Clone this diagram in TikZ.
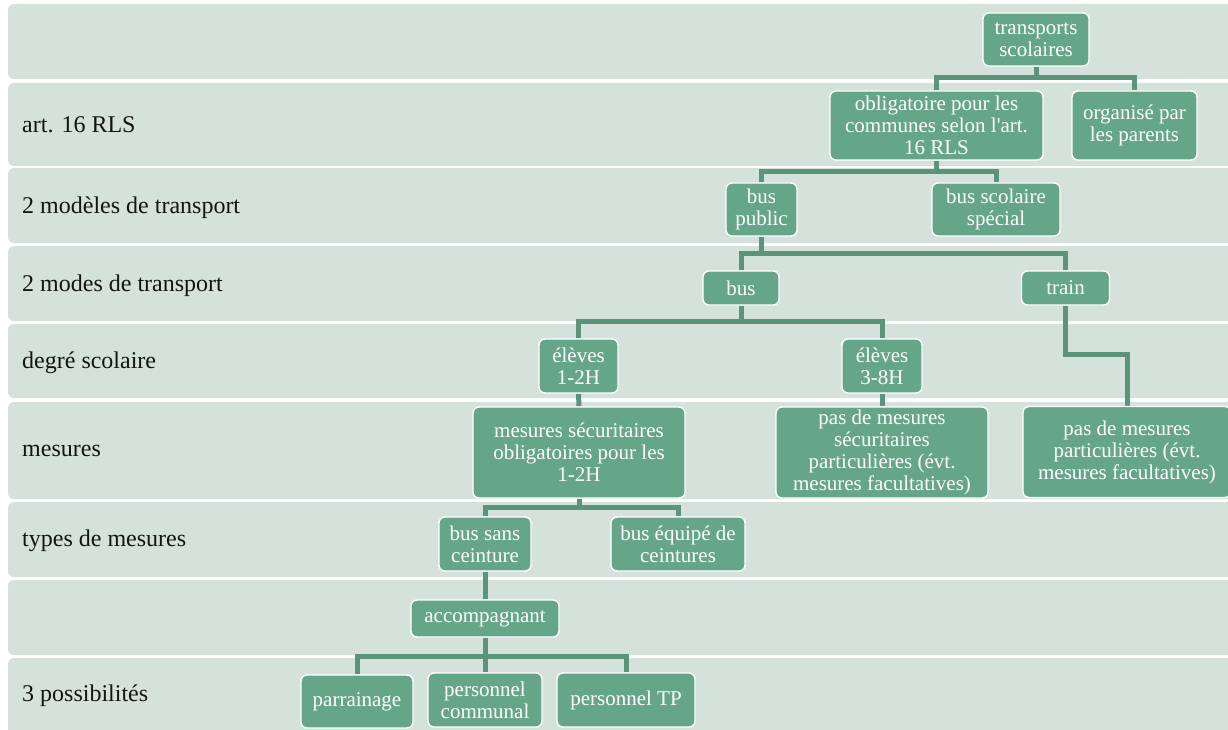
\documentclass[tikz,border=0pt]{standalone}
\usepackage{fontspec}
\setmainfont{Liberation Serif}
\usetikzlibrary{backgrounds}
\definecolor{bandfill}{RGB}{213,225,219}
\definecolor{nodefill}{RGB}{102,166,136}
\definecolor{connc}{RGB}{90,148,121}
\definecolor{labelc}{RGB}{20,20,20}
\newcommand{\straightq}{\XeTeXglyph\XeTeXcharglyph"0027\relax}
\tikzset{
  band/.style={fill=bandfill, draw=none, rounded corners=6pt},
  rowlabel/.style={anchor=west, inner sep=0pt, text=labelc, font=\fontsize{24}{26}\selectfont},
  box/.style={draw=white, line width=1.4pt, fill=nodefill, rounded corners=6pt, text=white,
    align=center, inner sep=0pt, font=\fontsize{21}{22}\selectfont},
  conn/.style={draw=connc, line width=5pt, line join=miter}
}
\newcommand{\bx}[6]{% name, cx, cy, w, h, text
  \node[box, minimum width=#4pt, minimum height=#5pt] (#1) at (#2,#3) {#6};}
\begin{document}
\begin{tikzpicture}[x=1pt, y=-1pt]
\useasboundingbox (0,0) rectangle (1228,730);
\clip (0,0) rectangle (1228,730);
\begin{scope}[on background layer]
\fill[white] (0,0) rectangle (1228,730);
% bands
\path[band] (8,4) rectangle (1250,79);
\path[band] (8,83) rectangle (1250,166);
\path[band] (8,168) rectangle (1250,243);
\path[band] (8,246) rectangle (1250,321);
\path[band] (8,324) rectangle (1250,398);
\path[band] (8,402) rectangle (1250,499);
\path[band] (8,502) rectangle (1250,577);
\path[band] (8,580) rectangle (1250,655);
\path[band] (8,658) rectangle (1250,740);
\end{scope}
% row labels
\node[rowlabel] (l2) at (22,125) {art. 16 RLS};
\node[rowlabel] (l3) at (22,208) {2 modèles de transport};
\node[rowlabel] (l4) at (22,285.5) {2 modes de transport};
\node[rowlabel] (l5) at (22,362.5) {degré scolaire};
\node[rowlabel] (l6) at (22,451) {mesures};
\node[rowlabel] (l7) at (22,540.5) {types de mesures};
\node[rowlabel] (l9) at (22,696) {3 possibilités};
% nodes
\bx{ts}{1036}{39.5}{106}{53}{transports\\scolaires}
\bx{obl}{936.5}{125.5}{213}{69}{obligatoire pour les\\communes selon l\straightq art.\\16 RLS}
\bx{org}{1134.5}{125.5}{125}{69}{organisé par\\les parents}
\bx{bpub}{761.5}{209.5}{71}{53}{bus\\public}
\bx{bss}{996}{209.5}{128}{53}{bus scolaire\\spécial}
\bx{bus}{741}{288}{76}{34}{bus}
\bx{train}{1065.5}{288}{88}{34}{train}
\bx{e12}{578.5}{366}{79}{54}{élèves\\1-2H}
\bx{e38}{882}{366}{80}{54}{élèves\\3-8H}
\bx{ms}{579}{452.5}{212}{91}{mesures sécuritaires\\obligatoires pour les\\1-2H}
\bx{pdm}{882}{452.5}{212}{91}{pas de mesures\\sécuritaires\\particulières (évt.\\mesures facultatives)}
\bx{pdmp}{1127}{452}{208}{91}{pas de mesures\\particulières (évt.\\mesures facultatives)}
\bx{bsc}{485}{544}{92}{54}{bus sans\\ceinture}
\bx{bec}{678}{544}{134}{54}{bus équipé de\\ceintures}
\bx{acc}{485}{618.5}{148}{37}{accompagnant}
\bx{par}{357}{701.5}{112}{53}{parrainage}
\bx{pc}{485}{700}{114}{54}{personnel\\communal}
\bx{ptp}{626}{700}{138}{54}{personnel TP}
% connectors
\begin{scope}[on background layer]
\coordinate (j1) at (0,78);
\coordinate (j2) at (0,172);
\coordinate (j3) at (0,253);
\coordinate (j4) at (0,321.5);
\coordinate (j5) at (0,354);
\coordinate (j6) at (0,507);
\coordinate (j7) at (0,656);
\draw[conn] (ts.south) -- (ts.south |- j1) -| (obl.north);
\draw[conn] (ts.south |- j1) -| (org.north);
\draw[conn] (obl.south) -- (obl.south |- j2) -| (bpub.north);
\draw[conn] (obl.south |- j2) -| (bss.north);
\draw[conn] (bpub.south) -- (bpub.south |- j3) -| (bus.north);
\draw[conn] (bpub.south |- j3) -| (train.north);
\draw[conn] (bus.south) -- (bus.south |- j4) -| (e12.north);
\draw[conn] (bus.south |- j4) -| (e38.north);
\draw[conn] (train.south) -- (train.south |- j5) -| (pdmp.north);
\draw[conn] (e12.south) -- (ms.north);
\draw[conn] (e38.south) -- (pdm.north);
\draw[conn] (ms.south) -- (ms.south |- j6) -| (bsc.north);
\draw[conn] (ms.south |- j6) -| (bec.north);
\draw[conn] (bsc.south) -- (acc.north);
\draw[conn] (acc.south) -- (acc.south |- j7) -| (par.north);
\draw[conn] (acc.south |- j7) -| (pc.north);
\draw[conn] (acc.south |- j7) -| (ptp.north);
\end{scope}
\end{tikzpicture}
\end{document}
